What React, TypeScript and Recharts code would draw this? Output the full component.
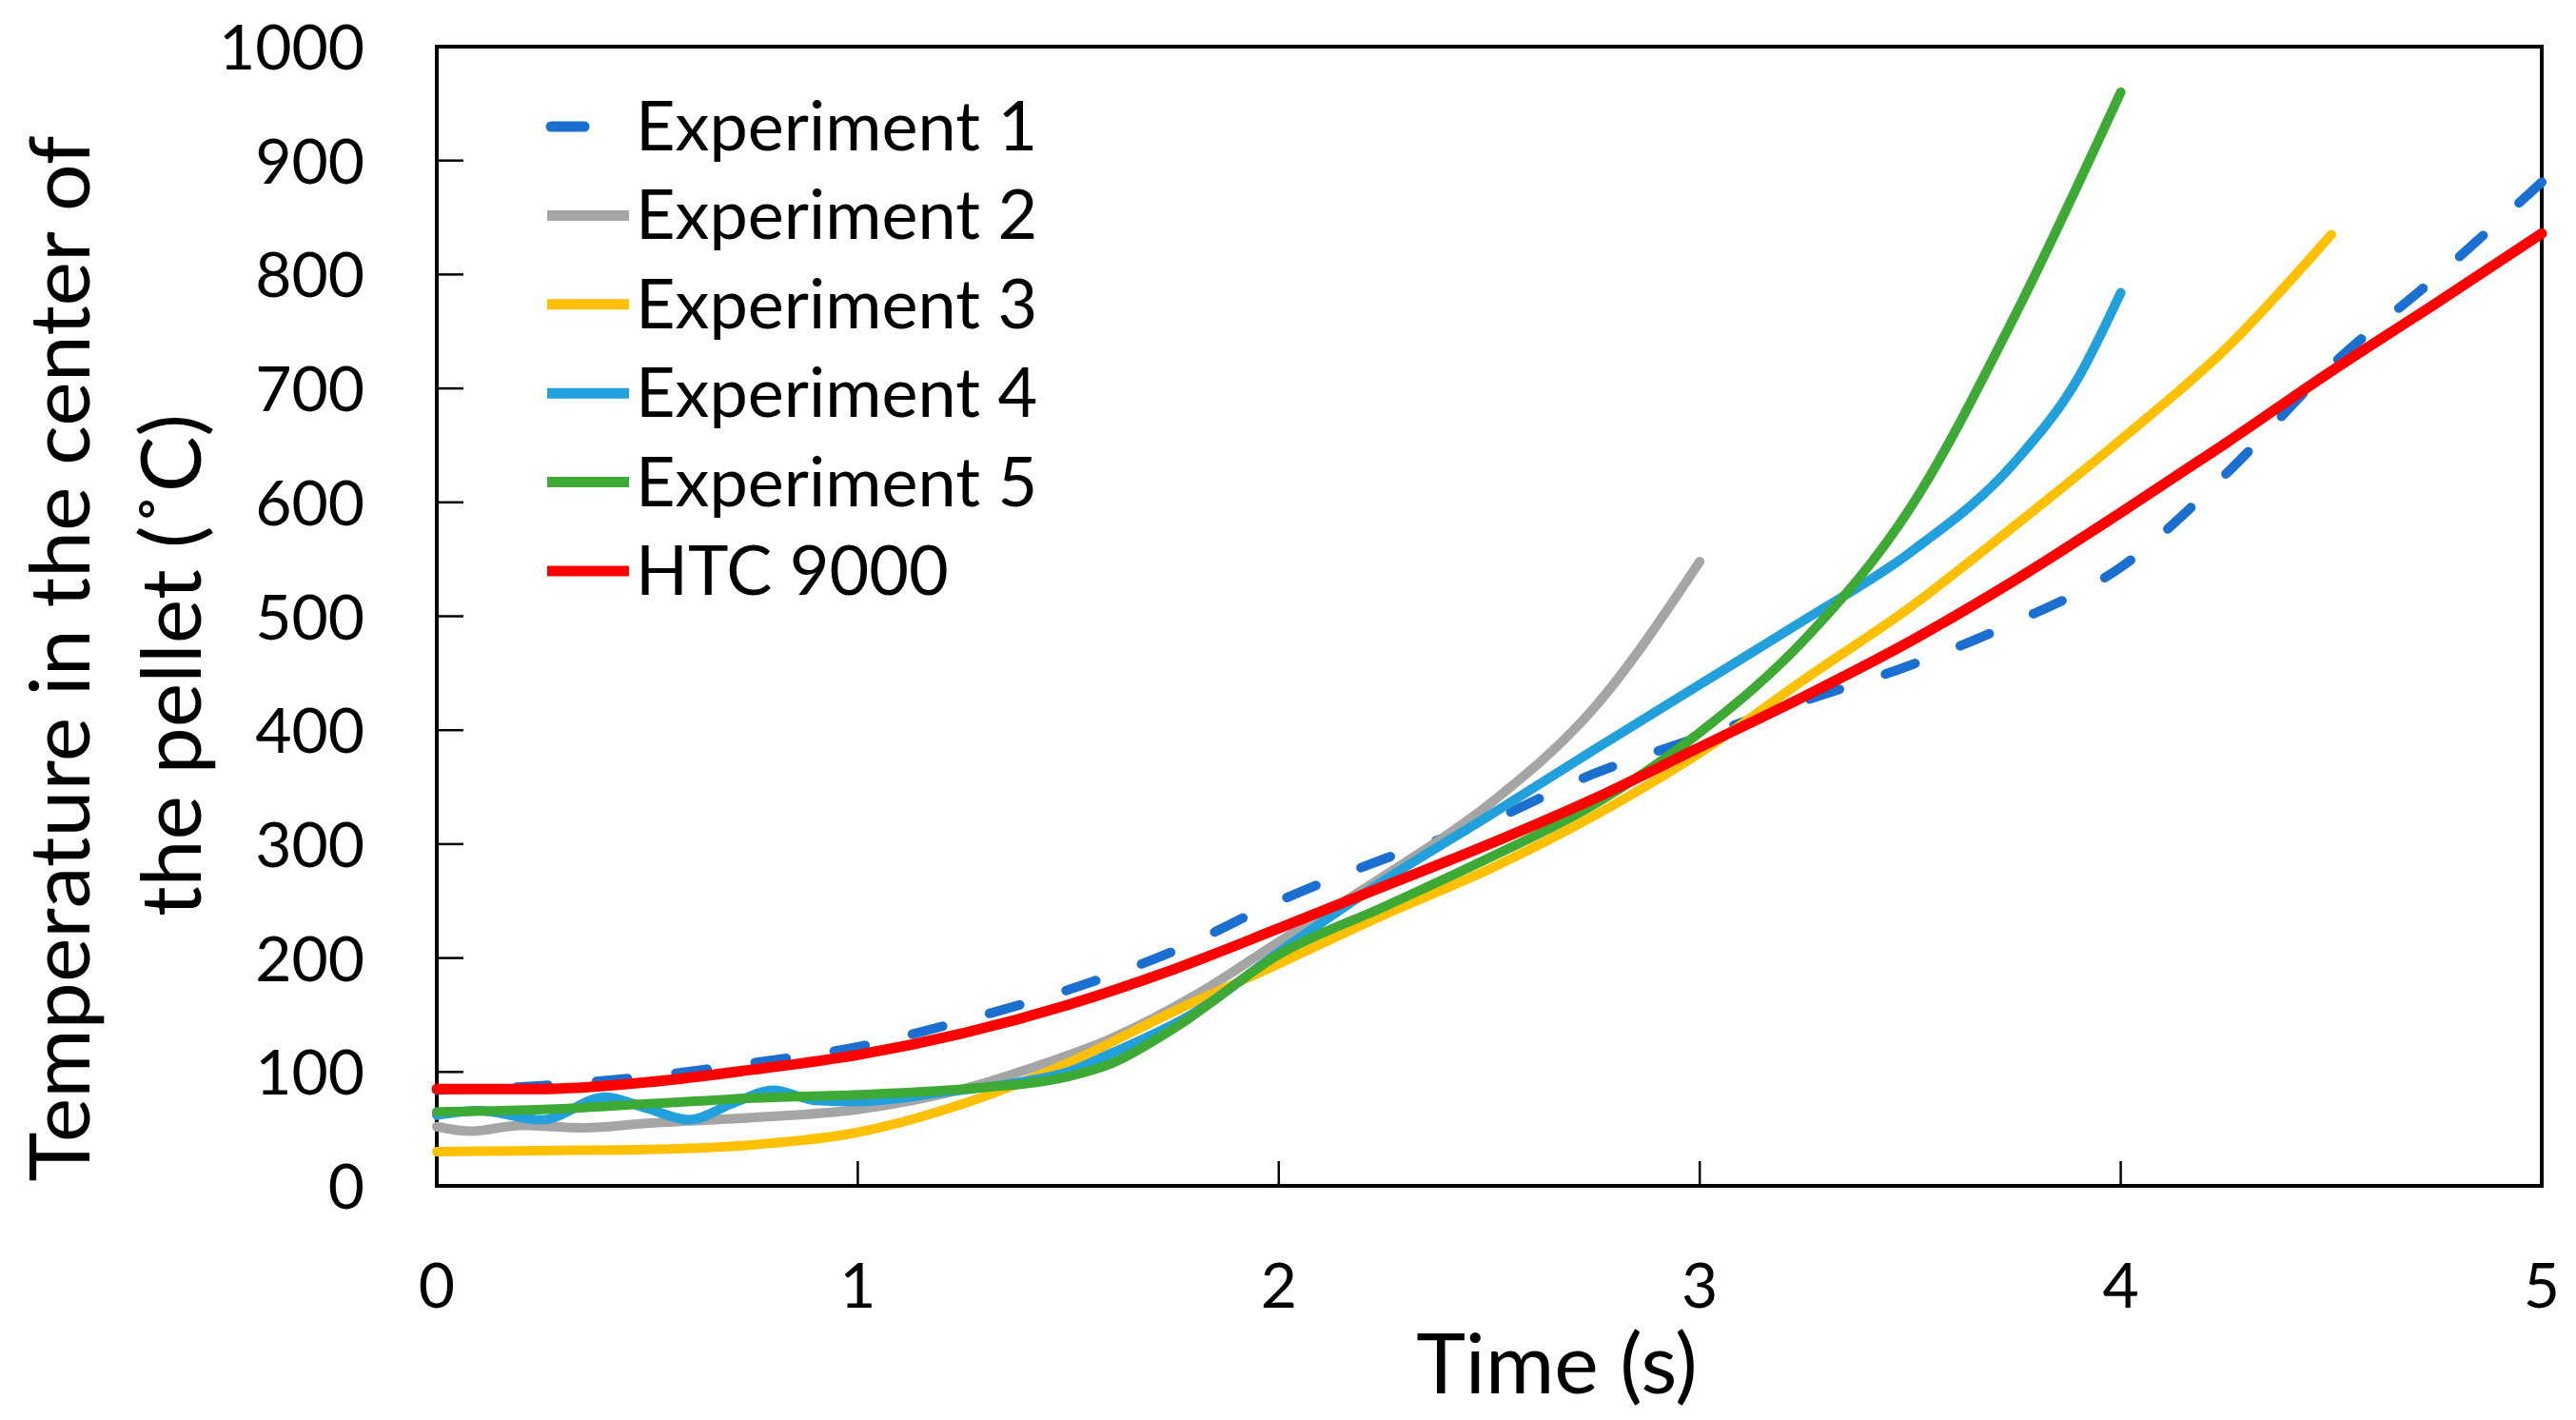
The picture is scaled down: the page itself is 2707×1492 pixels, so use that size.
import React from 'react';
import { LineChart, Line, XAxis, YAxis, Legend, ReferenceArea } from 'recharts';

const FONT = 'Lato, "Open Sans", "DejaVu Sans", sans-serif';

// ---- data (time in s, temperature in °C) ----
const exp1Time = [0, 0.25, 0.5, 0.75, 1, 1.25, 1.5, 1.75, 2, 2.25, 2.5, 2.75, 3, 3.25, 3.5, 3.75, 4, 4.25, 4.5, 4.75, 5];
const exp1Temp = [84, 88, 96, 108, 122, 145, 172, 206, 250, 287, 320, 362, 394, 426, 457, 495, 543, 625, 720, 798, 881];

const exp2Time = [0, 0.08, 0.2, 0.35, 0.5, 0.75, 1, 1.25, 1.4, 1.6, 1.8, 2, 2.25, 2.5, 2.75, 3];
const exp2Temp = [52, 48, 53, 51, 55, 60, 67, 85, 102, 129, 167, 214, 272, 335, 420, 548];

const exp3Time = [0, 0.25, 0.5, 0.75, 1, 1.25, 1.5, 1.75, 2, 2.25, 2.5, 2.75, 3, 3.25, 3.5, 3.75, 4, 4.25, 4.5];
const exp3Temp = [30, 31, 32, 36, 47, 72, 108, 153, 195, 238, 278, 325, 380, 445, 508, 580, 655, 735, 835];

const exp4Time = [0, 0.1, 0.25, 0.4, 0.5, 0.6, 0.7, 0.8, 0.9, 1, 1.2, 1.4, 1.5, 1.6, 1.8, 2, 2.25, 2.5, 2.75, 3, 3.25, 3.5, 3.75, 3.9, 4];
const exp4Temp = [62, 66, 58, 78, 68, 58, 72, 84, 75, 74, 82, 92, 100, 116, 152, 205, 268, 325, 383, 440, 497, 556, 636, 710, 784];

const exp5Time = [0, 0.25, 0.5, 0.75, 1, 1.25, 1.5, 1.6, 1.75, 2, 2.25, 2.5, 2.75, 3, 3.25, 3.5, 3.75, 4];
const exp5Temp = [65, 67, 72, 77, 80, 85, 96, 107, 138, 203, 245, 288, 335, 398, 480, 595, 765, 960];

const htcTime = [0, 0.25, 0.5, 0.75, 1, 1.25, 1.5, 1.75, 2, 2.25, 2.5, 2.75, 3, 3.25, 3.5, 3.75, 4, 4.25, 4.5, 4.75, 5];
const htcTemp = [85, 85, 91, 102, 115, 134, 159, 190, 226, 263, 300, 340, 385, 430, 478, 532, 591, 652, 715, 775, 836];

const xTicks = [0, 1, 2, 3, 4, 5];
const yTicks = [0, 100, 200, 300, 400, 500, 600, 700, 800, 900, 1000];

const seriesNames = ['Experiment 1', 'Experiment 2', 'Experiment 3', 'Experiment 4', 'Experiment 5', 'HTC 9000'];
const seriesColors = ['#1B6FD0', '#A5A5A5', '#FFC000', '#21A0DB', '#3DAA35', '#FF0000'];

const zip = (xs: number[], ys: number[]) => xs.map((x, i) => ({ t: x, v: ys[i] }));

const seriesData = [
  zip(exp1Time, exp1Temp),
  zip(exp2Time, exp2Temp),
  zip(exp3Time, exp3Temp),
  zip(exp4Time, exp4Temp),
  zip(exp5Time, exp5Temp),
  zip(htcTime, htcTemp),
];

const widths = [10, 10, 10, 10, 10, 11];

const XTick = (props: any) => {
  const { x, y, payload } = props;
  const v = payload.value;
  return (
    <g>
      {v > 0 && v < 5 && <line x1={x} x2={x} y1={y} y2={y - 26} stroke="#000" strokeWidth={2.5} />}
      <text x={x} y={y + 128} textAnchor="middle" fontSize={66} fontFamily={FONT} fill="#000">
        {v}
      </text>
    </g>
  );
};

const YTick = (props: any) => {
  const { x, y, payload } = props;
  const v = payload.value;
  return (
    <g>
      {v > 0 && v < 1000 && <line x1={x} x2={x + 28} y1={y} y2={y} stroke="#000" strokeWidth={2.5} />}
      <text x={x - 76} y={y + 24} textAnchor="end" fontSize={66} fontFamily={FONT} fill="#000">
        {v}
      </text>
    </g>
  );
};

const renderLegend = (props: any) => {
  const payload = props.payload || [];
  const rowH = 93.4;
  return (
    <svg width={700} height={600} style={{ display: 'block', overflow: 'visible' }}>
      {payload.map((entry: any, i: number) => {
        const cy = 45 + i * rowH;
        const idx = seriesNames.indexOf(entry.value);
        const dashed = idx === 0;
        const color = idx >= 0 ? seriesColors[idx] : entry.color;
        return (
          <g key={i}>
            <line
              x1={dashed ? 11 : 7}
              x2={dashed ? 46 : 93}
              y1={cy}
              y2={cy}
              stroke={color}
              strokeWidth={11}
              strokeLinecap={dashed ? 'round' : 'butt'}
            />
            <text x={100} y={cy + 25} fontSize={72} fontFamily={FONT} fill="#000">
              {entry.value}
            </text>
          </g>
        );
      })}
    </svg>
  );
};

const YLabel = () => (
  <g>
    <text
      x={94}
      y={692}
      transform="rotate(-90, 94, 692)"
      textAnchor="middle"
      fontSize={88}
      fontFamily={FONT}
      fill="#000"
    >
      Temperature in the center of
    </text>
    <text
      x={211}
      y={699}
      transform="rotate(-90, 211, 699)"
      textAnchor="middle"
      fontSize={88}
      fontFamily={FONT}
      fill="#000"
    >
      the pellet (˚C)
    </text>
  </g>
);

const XLabel = () => (
  <text x={1636} y={1464} textAnchor="middle" fontSize={88} fontFamily={FONT} fill="#000">
    Time (s)
  </text>
);

export default function App() {
  return (
    <div style={{ width: 2707, height: 1492, background: '#fff', margin: '-8px 0 0 -8px' }}>
      <LineChart
        width={2707}
        height={1492}
        margin={{ top: 49, right: 36, bottom: 46, left: 159 }}
        style={{ fontFamily: FONT }}
      >
        <XAxis
          type="number"
          dataKey="t"
          domain={[0, 5]}
          ticks={xTicks}
          height={200}
          tickSize={0}
          tickMargin={0}
          tickLine={false}
          axisLine={false}
          tick={<XTick />}
          interval={0}
          allowDuplicatedCategory={false}
          label={{ content: () => <XLabel /> }}
        />
        <YAxis
          type="number"
          domain={[0, 1000]}
          ticks={yTicks}
          width={300}
          tickSize={0}
          tickMargin={0}
          tickLine={false}
          axisLine={false}
          tick={<YTick />}
          interval={0}
          label={{ content: () => <YLabel /> }}
        />
        <ReferenceArea x1={0} x2={5} y1={0} y2={1000} fill="none" stroke="#000" strokeWidth={4} ifOverflow="visible" />
        {seriesData.map((d, i) => (
          <Line
            key={seriesNames[i]}
            data={d}
            dataKey="v"
            name={seriesNames[i]}
            type="monotone"
            stroke={seriesColors[i]}
            strokeWidth={widths[i]}
            strokeDasharray={i === 0 ? '33 51' : undefined}
            strokeLinecap="round"
            dot={false}
            activeDot={false}
            isAnimationActive={false}
          />
        ))}
        <Legend
          layout="vertical"
          verticalAlign="middle"
          align="center"
          content={renderLegend}
          wrapperStyle={{ left: 568, top: 88, width: 700, height: 600 }}
        />
      </LineChart>
    </div>
  );
}
